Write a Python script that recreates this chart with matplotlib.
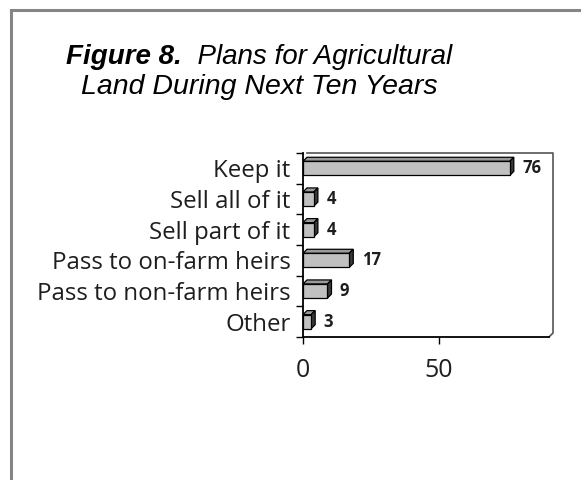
import matplotlib
matplotlib.use('Agg')
import matplotlib.pyplot as plt
from matplotlib.patches import Polygon, Rectangle
from matplotlib.lines import Line2D

# data
categories = ['Keep it', 'Sell all of it', 'Sell part of it',
              'Pass to on-farm heirs', 'Pass to non-farm heirs', 'Other']
values = [76, 4, 4, 17, 9, 3]
x_ticks = [0, 50]

W, H = 581, 480
DPI = 100

fig = plt.figure(figsize=(W / DPI, H / DPI), dpi=DPI)
fig.patch.set_facecolor('white')

# grey frame around the figure (only left/top inside the picture)
fig.patches.append(Rectangle((11 / W, -0.1), 1.2, (470 / H) + 0.1,
                             transform=fig.transFigure, fill=False,
                             edgecolor='#858585', linewidth=2.2))

# plot area (front plane)
ax_left, ax_right, ax_top, ax_bottom = 303, 549, 153, 337
ax = fig.add_axes([ax_left / W, (H - ax_bottom) / H,
                   (ax_right - ax_left) / W, (ax_bottom - ax_top) / H])
xmax = 90.4
ax.set_xlim(0, xmax)
n = len(categories)
ax.set_ylim(n - 0.5, -0.5)

# depth of the 3d effect in pixels -> data units
depth = 4
dx = depth * xmax / (ax_right - ax_left)
dy = depth * n / (ax_bottom - ax_top)

bar_h = 0.46
for i, v in enumerate(values):
    y0 = i - bar_h / 2
    y1 = i + bar_h / 2
    # top face
    ax.add_patch(Polygon([(0, y0), (dx, y0 - dy), (v + dx, y0 - dy), (v, y0)],
                         closed=True, facecolor='#9a9a9a', edgecolor='black',
                         linewidth=0.9, zorder=3))
    # side face
    ax.add_patch(Polygon([(v, y0), (v + dx, y0 - dy), (v + dx, y1 - dy), (v, y1)],
                         closed=True, facecolor='#3a3a3a', edgecolor='black',
                         linewidth=0.9, zorder=3))
    # front face
    ax.add_patch(Rectangle((0, y0), v, bar_h, facecolor='#c0c0c0',
                           edgecolor='black', linewidth=0.9, zorder=4))
    ax.annotate(str(v), xy=(v, i), xytext=(9, 0), textcoords='offset points',
                ha='left', va='center', fontsize=12, fontweight='bold',
                family='Open Sans', color='#1e1e1e')

# back wall outline
ax.add_line(Line2D([dx, xmax + dx, xmax + dx, xmax],
                   [-0.5, -0.5, n - 0.5 - dy, n - 0.5],
                   color='#555555', linewidth=1.2, clip_on=False, zorder=2))

for side in ['top', 'right']:
    ax.spines[side].set_visible(False)
ax.spines['left'].set_linewidth(1.3)
ax.spines['bottom'].set_linewidth(1.3)

ax.set_yticks([i - 0.5 for i in range(n + 1)])
ax.set_yticklabels([])
ax.set_yticks(range(n), minor=True)
ax.set_yticklabels(categories, minor=True, fontsize=17.3, family='Open Sans',
                   color='#1e1e1e')
ax.tick_params(axis='y', which='major', length=5, width=1, direction='out')
ax.tick_params(axis='y', which='minor', length=0, pad=9)

ax.set_xticks(x_ticks)
ax.set_xticklabels([str(t) for t in x_ticks], fontsize=18, family='Open Sans',
                   color='#1e1e1e')
ax.tick_params(axis='x', length=5, width=1, direction='out', pad=10)

# title: bold-italic lead plus italic text on the first line
line1_bold = 'Figure 8.'
line1_rest = '  Plans for Agricultural'
line2 = 'Land During Next Ten Years'
cx = 259 / W
t1 = fig.text(0, 1 - 57 / H, line1_bold, fontsize=20, fontweight='bold',
              style='italic', family='Liberation Sans', va='center', ha='left')
t2 = fig.text(0, 1 - 57 / H, line1_rest, fontsize=20, style='italic',
              family='Liberation Sans', va='center', ha='left')
fig.text(cx, 1 - 87 / H, line2, fontsize=20.5, style='italic',
         family='Liberation Sans', va='center', ha='center')
fig.canvas.draw()
r = fig.canvas.get_renderer()
w1 = t1.get_window_extent(r).width
w2 = t2.get_window_extent(r).width
start = cx * W - (w1 + w2) / 2
t1.set_x(start / W)
t2.set_x((start + w1) / W)

fig.savefig('out.png', dpi=DPI)
